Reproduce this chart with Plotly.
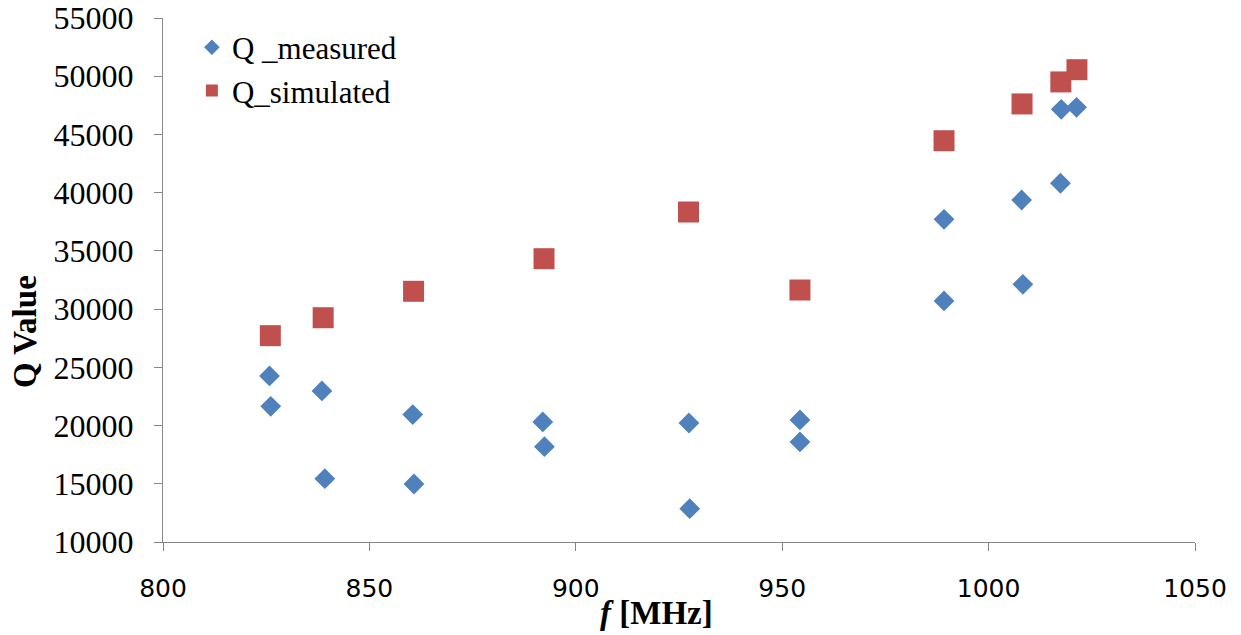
import plotly.graph_objects as go

# Resonance frequency (MHz) and quality factor for each mode
f_measured = [825.8, 826.1, 838.5, 839.2, 860.5, 860.8, 892.0, 892.4, 927.4, 927.6,
              954.3, 954.3, 989.2, 989.2, 1008.0, 1008.3, 1017.4, 1017.6, 1021.3]
q_measured = [24260, 21650, 22970, 15440, 20940, 14980, 20310, 18190, 20220, 12860,
              20480, 18590, 37710, 30700, 39370, 32130, 40810, 47160, 47330]

f_simulated = [826.0, 838.8, 860.7, 892.3, 927.3, 954.3, 989.2, 1008.1, 1017.5, 1021.4]
q_simulated = [27720, 29260, 31530, 34330, 38340, 31640, 44460, 47620, 49510, 50560]

x_ticks = [800, 850, 900, 950, 1000, 1050]
y_ticks = list(range(10000, 55001, 5000))
y_tick_text = [str(v) for v in y_ticks]

BLUE = "#4F81BD"
RED = "#C0504D"
AXIS = "#868686"
SERIF = "Liberation Serif"

fig = go.Figure()
fig.add_trace(go.Scatter(
    x=f_measured, y=q_measured, mode="markers", name="Q _measured",
    marker=dict(symbol="diamond", size=16, color=BLUE, line=dict(width=0)),
))
fig.add_trace(go.Scatter(
    x=f_simulated, y=q_simulated, mode="markers", name="Q_simulated",
    marker=dict(symbol="square", size=21, color=RED, line=dict(width=0)),
))

fig.update_layout(
    width=1241, height=635,
    margin=dict(l=163, r=46, t=18, b=93),
    plot_bgcolor="white", paper_bgcolor="white",
    showlegend=True,
    legend=dict(
        x=0.028, y=0.995, xanchor="left", yanchor="top",
        font=dict(family=SERIF, size=31, color="black"),
        bgcolor="rgba(0,0,0,0)", itemsizing="constant",
        tracegroupgap=0,
    ),
    xaxis=dict(
        range=[800, 1050], tickvals=x_ticks, showgrid=False, zeroline=False,
        automargin=False,
        showline=True, linecolor=AXIS, linewidth=1.3,
        ticks="outside", ticklen=8, tickcolor=AXIS, tickwidth=1.3,
        tickfont=dict(family="DejaVu Sans", size=25, color="black"),
        ticklabelstandoff=16,
    ),
    yaxis=dict(
        range=[10000, 55000], tickvals=y_ticks, ticktext=y_tick_text,
        showgrid=False, zeroline=False, automargin=False,
        showline=True, linecolor=AXIS, linewidth=1.3,
        ticks="outside", ticklen=8, tickcolor=AXIS, tickwidth=1.3,
        tickfont=dict(family=SERIF, size=32, color="black"),
        ticklabelstandoff=14,
    ),
    annotations=[
        # axis titles, placed off-centre like the original layout
        dict(text="<b><i>f</i> [MHz]</b>", xref="paper", yref="paper",
             x=0.478, y=-0.1355, xanchor="center", yanchor="middle", showarrow=False,
             font=dict(family=SERIF, size=33, color="black")),
        dict(text="<b>Q Value</b>", xref="paper", yref="paper", textangle=-90,
             x=-0.1337, y=0.4008, xanchor="center", yanchor="middle", showarrow=False,
             font=dict(family=SERIF, size=33, color="black")),
    ],
)

fig.write_html("out.html")
